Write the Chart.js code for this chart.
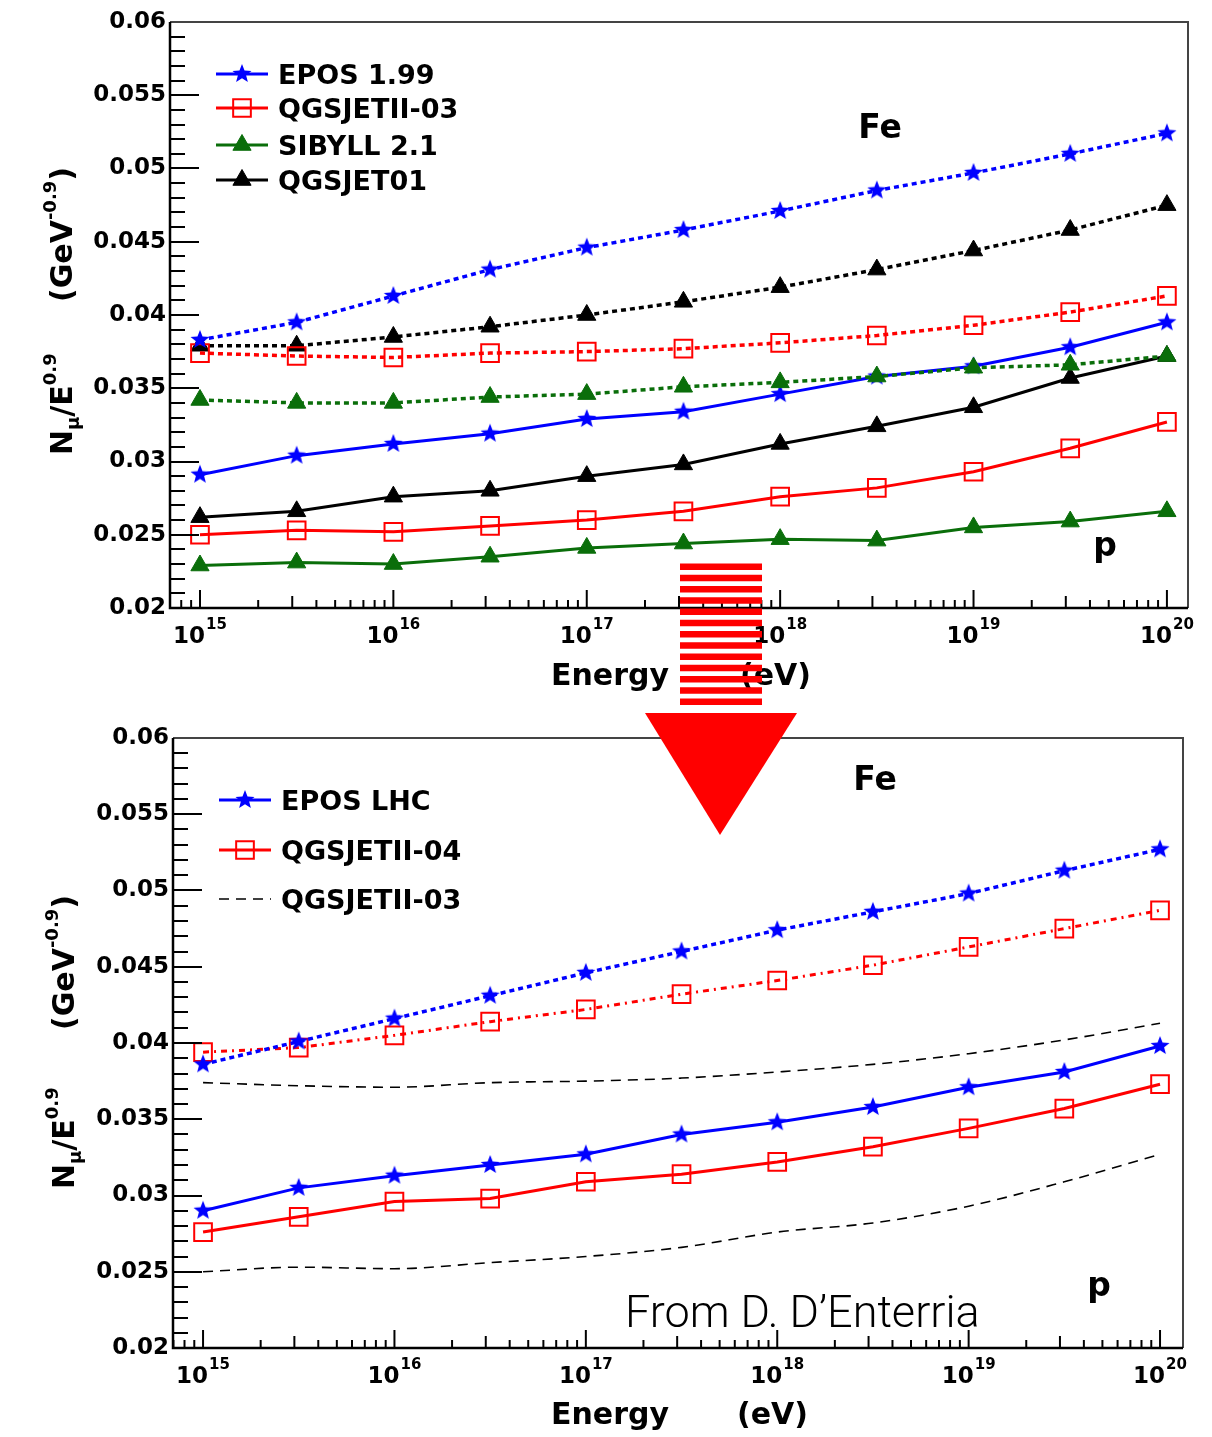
<!DOCTYPE html>
<html>
<head>
<meta charset="utf-8">
<script src="https://cdn.jsdelivr.net/npm/chart.js@4/dist/chart.umd.min.js"></script>
<style>
html,body{margin:0;padding:0;background:#fff;}
#wrap{position:relative;width:1212px;height:1437px;overflow:hidden;background:#fff;}
#c1{position:absolute;left:0;top:0;}
#c2{position:absolute;left:0;top:720px;}
#arrow{position:absolute;left:0;top:0;pointer-events:none;}
</style>
</head>
<body>
<div id="wrap">
<canvas id="c1" width="1212" height="720"></canvas>
<canvas id="c2" width="1212" height="717"></canvas>
<svg id="arrow" width="1212" height="1437"></svg>
</div>
<script>
// ---------------- data ----------------
const ENERGY = [1e15, 3.162e15, 1e16, 3.162e16, 1e17, 3.162e17, 1e18, 3.162e18, 1e19, 3.162e19, 1e20];
const X_DECADES = [15, 16, 17, 18, 19, 20];
const Y_TICKS = [0.02, 0.025, 0.03, 0.035, 0.04, 0.045, 0.05, 0.055, 0.06];

// top panel (old models)
const eposFe     = [0.0383, 0.0395, 0.0413, 0.0431, 0.0446, 0.0458, 0.0471, 0.0485, 0.0497, 0.0510, 0.0524];
const qgs01Fe    = [0.0379, 0.0379, 0.0385, 0.0392, 0.0400, 0.0409, 0.0419, 0.0431, 0.0444, 0.0458, 0.0475];
const qgsII03Fe  = [0.0374, 0.0372, 0.0371, 0.0374, 0.0375, 0.0377, 0.0381, 0.0386, 0.0393, 0.0402, 0.0413];
const sibyllFe   = [0.0342, 0.0340, 0.0340, 0.0344, 0.0346, 0.0351, 0.0354, 0.0358, 0.0364, 0.0366, 0.0372];
const eposP      = [0.0291, 0.0304, 0.0312, 0.0319, 0.0329, 0.0334, 0.0346, 0.0358, 0.0365, 0.0378, 0.0395];
const qgs01P     = [0.0262, 0.0266, 0.0276, 0.0280, 0.0290, 0.0298, 0.0312, 0.0324, 0.0337, 0.0357, 0.0372];
const qgsII03P   = [0.0250, 0.0253, 0.0252, 0.0256, 0.0260, 0.0266, 0.0276, 0.0282, 0.0293, 0.0309, 0.0327];
const sibyllP    = [0.0229, 0.0231, 0.0230, 0.0235, 0.0241, 0.0244, 0.0247, 0.0246, 0.0255, 0.0259, 0.0266];

// bottom panel (LHC-tuned models)
const eposLhcFe  = [0.0386, 0.0401, 0.0416, 0.0431, 0.0446, 0.0460, 0.0474, 0.0486, 0.0498, 0.0513, 0.0527];
const qgsII04Fe  = [0.0394, 0.0397, 0.0405, 0.0414, 0.0422, 0.0432, 0.0441, 0.0451, 0.0463, 0.0475, 0.0487];
const eposLhcP   = [0.0290, 0.0305, 0.0313, 0.0320, 0.0327, 0.0340, 0.0348, 0.0358, 0.0371, 0.0381, 0.0398];
const qgsII04P   = [0.0276, 0.0286, 0.0296, 0.0298, 0.0309, 0.0314, 0.0322, 0.0332, 0.0344, 0.0357, 0.0373];

const LEGEND_TOP = ['EPOS 1.99', 'QGSJETII-03', 'SIBYLL 2.1', 'QGSJET01'];
const LEGEND_BOT = ['EPOS LHC', 'QGSJETII-04', 'QGSJETII-03'];

// ---------------- styles ----------------
const BLUE = '#0000ff', RED = '#ff0000', GREEN = '#0a6e0a', BLACK = '#000000';
const FONT = '"DejaVu Sans", "Liberation Sans", Arial, sans-serif';

function makeStar(color, R, r) {
  const c = document.createElement('canvas');
  const s = Math.ceil(2 * R + 2);
  c.width = s; c.height = s;
  const g = c.getContext('2d');
  g.fillStyle = color;
  g.beginPath();
  for (let i = 0; i < 10; i++) {
    const ang = -Math.PI / 2 + i * Math.PI / 5;
    const rad = i % 2 === 0 ? R : r;
    const px = s / 2 + rad * Math.cos(ang), py = s / 2 + rad * Math.sin(ang);
    if (i === 0) g.moveTo(px, py); else g.lineTo(px, py);
  }
  g.closePath(); g.fill();
  return c;
}
const starBlue = makeStar(BLUE, 10, 4.3);

function pts(arr) { return ENERGY.map((e, i) => ({ x: e, y: arr[i] })); }

const DOTTED = [5, 4];
function ds(label, arr, color, marker, dash, extra) {
  const base = {
    label, data: pts(arr), borderColor: color, borderWidth: 3,
    borderDash: dash || [], tension: 0, fill: false,
    pointStyle: marker, pointRadius: 10, pointHoverRadius: 10,
    pointBorderColor: color, pointBackgroundColor: color, pointBorderWidth: 1
  };
  if (marker === 'rect') {
    base.pointRadius = 12.5; base.pointBorderWidth = 2; base.pointBackgroundColor = 'rgba(0,0,0,0)';
  }
  if (marker === 'triangle') { base.pointRadius = 10.5; }
  if (marker === false) { base.pointRadius = 0; base.pointHoverRadius = 0; }
  return Object.assign(base, extra || {});
}

// ---------------- drawing helpers ----------------
function supText(ctx, base, sup, cx, by, bSize, sSize, rise) {
  ctx.font = 'bold ' + bSize + 'px ' + FONT;
  const w1 = ctx.measureText(base).width;
  ctx.font = 'bold ' + sSize + 'px ' + FONT;
  const w2 = ctx.measureText(sup).width;
  const x0 = cx - (w1 + w2 + 1) / 2;
  ctx.textAlign = 'left'; ctx.textBaseline = 'alphabetic';
  ctx.font = 'bold ' + bSize + 'px ' + FONT;
  ctx.fillText(base, x0, by);
  ctx.font = 'bold ' + sSize + 'px ' + FONT;
  ctx.fillText(sup, x0 + w1 + 1, by - rise);
}

function runs(ctx, parts) {
  let cx = 0;
  ctx.textAlign = 'left'; ctx.textBaseline = 'alphabetic';
  for (const [t, s, dy] of parts) {
    ctx.font = 'bold ' + s + 'px ' + FONT;
    ctx.fillText(t, cx, dy);
    cx += ctx.measureText(t).width;
  }
}

function yTitle(ctx, xb, yStart1, yStart2) {
  ctx.save();
  ctx.fillStyle = '#000';
  ctx.translate(xb, yStart1); ctx.rotate(-Math.PI / 2);
  runs(ctx, [['N', 30, 0], ['\u03bc', 18, 7], ['/E', 30, 0], ['0.9', 18, -16]]);
  ctx.restore();
  ctx.save();
  ctx.fillStyle = '#000';
  ctx.translate(xb, yStart2); ctx.rotate(-Math.PI / 2);
  runs(ctx, [['(GeV', 30, 0], ['-0.9', 18, -16], [')', 30, 0]]);
  ctx.restore();
}

function makeDecor(cfg) {
  return {
    id: 'decor' + cfg.id,
    afterDraw(chart) {
      const { ctx, chartArea: a, scales } = chart;
      const x = scales.x, y = scales.y;
      const o = cfg.off;
      ctx.save();
      // y ticks (inside)
      ctx.strokeStyle = '#000'; ctx.lineWidth = 2;
      for (let m = 20; m <= 60; m++) {
        const v = m / 1000;
        const py = Math.round(y.getPixelForValue(v));
        const len = m % 5 === 0 ? 29 : 15;
        ctx.beginPath(); ctx.moveTo(a.left, py); ctx.lineTo(a.left + len, py); ctx.stroke();
      }
      // x ticks (inside)
      for (let n = 14; n <= 20; n++) {
        for (let k = 1; k <= 9; k++) {
          const v = k * Math.pow(10, n);
          if (v < x.min || v > x.max) continue;
          const px = x.getPixelForValue(v);
          const len = k === 1 ? 18 : (k === 3 ? 12 : 8);
          ctx.beginPath(); ctx.moveTo(px, a.bottom); ctx.lineTo(px, a.bottom - len); ctx.stroke();
        }
      }
      // frame
      ctx.strokeStyle = '#444'; ctx.lineWidth = 2;
      ctx.beginPath(); ctx.moveTo(a.left, a.top); ctx.lineTo(a.right, a.top); ctx.lineTo(a.right, a.bottom); ctx.stroke();
      ctx.strokeStyle = '#000'; ctx.lineWidth = 2.5;
      ctx.beginPath(); ctx.moveTo(a.left, a.top); ctx.lineTo(a.left, a.bottom); ctx.lineTo(a.right, a.bottom); ctx.stroke();
      // x tick labels
      ctx.fillStyle = '#000';
      for (const n of X_DECADES) {
        const px = x.getPixelForValue(Math.pow(10, n));
        supText(ctx, '10', String(n), px, cfg.xLabBase - o, 23, 15, 14);
      }
      // x title
      ctx.font = 'bold 30px ' + FONT; ctx.textAlign = 'left'; ctx.textBaseline = 'alphabetic';
      ctx.fillText('Energy', 551, cfg.xTitleBase - o);
      ctx.fillText('(eV)', cfg.evX, cfg.xTitleBase - o);
      // y title
      yTitle(ctx, cfg.yTitleX, cfg.yT1 - o, cfg.yT2 - o);
      // Fe / p labels
      ctx.font = 'bold 33px ' + FONT; ctx.textAlign = 'center';
      ctx.fillText('Fe', cfg.feX, cfg.feY - o);
      ctx.fillText('p', cfg.pX, cfg.pY - o);
      // legend
      const dss = chart.data.datasets;
      cfg.legend.forEach((ent) => {
        const d = dss[ent.ds];
        const ly = ent.y - o;
        ctx.save();
        ctx.strokeStyle = d.borderColor; ctx.lineWidth = ent.lw;
        ctx.setLineDash(ent.dash || []);
        ctx.beginPath(); ctx.moveTo(cfg.legX1, ly); ctx.lineTo(cfg.legX2, ly); ctx.stroke();
        ctx.restore();
        if (d.pointStyle) {
          ctx.save();
          ctx.strokeStyle = d.pointBorderColor; ctx.fillStyle = d.pointBackgroundColor;
          ctx.lineWidth = d.pointBorderWidth;
          Chart.helpers.drawPoint(ctx, { pointStyle: d.pointStyle, radius: d.pointRadius, borderWidth: d.pointBorderWidth, rotation: 0 }, (cfg.legX1 + cfg.legX2) / 2, ly);
          ctx.restore();
        }
        ctx.fillStyle = '#000';
        ctx.font = 'bold 27px ' + FONT; ctx.textAlign = 'left'; ctx.textBaseline = 'alphabetic';
        ctx.fillText(ent.text, cfg.legTX, ly + 10);
      });
      if (cfg.credit) {
        ctx.font = '300 45px Roboto, "Open Sans", Lato, sans-serif';
        ctx.textAlign = 'left'; ctx.fillStyle = '#000';
        ctx.fillText(cfg.credit, 625, 1327 - o);
      }
      ctx.restore();
    }
  };
}

function yScale(w) {
  return {
    type: 'linear', min: 0.02, max: 0.06, position: 'left',
    grid: { display: false, drawTicks: false }, border: { display: false },
    afterBuildTicks: (s) => { s.ticks = Y_TICKS.map(v => ({ value: v })); },
    afterFit: (s) => { s.width = w; },
    ticks: {
      padding: 4, color: '#000', font: { family: FONT, weight: 'bold', size: 23 },
      callback: (v) => String(+(+v).toFixed(3))
    }
  };
}

// ---------------- top chart ----------------
const topDatasets = [
  ds('EPOS 1.99 Fe', eposFe, BLUE, starBlue, DOTTED, { borderWidth: 3.5 }),
  ds('QGSJETII-03 Fe', qgsII03Fe, RED, 'rect', DOTTED, { borderWidth: 3.5 }),
  ds('SIBYLL 2.1 Fe', sibyllFe, GREEN, 'triangle', DOTTED, { borderWidth: 3.5 }),
  ds('QGSJET01 Fe', qgs01Fe, BLACK, 'triangle', DOTTED, { borderWidth: 3.5 }),
  ds('EPOS 1.99 p', eposP, BLUE, starBlue),
  ds('QGSJETII-03 p', qgsII03P, RED, 'rect'),
  ds('SIBYLL 2.1 p', sibyllP, GREEN, 'triangle'),
  ds('QGSJET01 p', qgs01P, BLACK, 'triangle')
];

new Chart(document.getElementById('c1'), {
  type: 'line',
  data: { datasets: topDatasets },
  options: {
    responsive: false, animation: false, devicePixelRatio: 1,
    layout: { padding: { left: 0, top: 22, right: 24, bottom: 112 } },
    plugins: { legend: { display: false }, tooltip: { enabled: false } },
    scales: {
      x: { type: 'logarithmic', min: Math.pow(10, 14.845), max: Math.pow(10, 20.109), display: false },
      y: yScale(170)
    }
  },
  plugins: [makeDecor({
    id: 1, off: 0, xLabBase: 643, xTitleBase: 685, evX: 740,
    yTitleX: 72, yT1: 455, yT2: 302,
    feX: 880, feY: 138, pX: 1105, pY: 556,
    legX1: 216, legX2: 268, legTX: 278,
    legend: [
      { ds: 4, y: 74, lw: 3, text: LEGEND_TOP[0] },
      { ds: 5, y: 108, lw: 3, text: LEGEND_TOP[1] },
      { ds: 6, y: 145, lw: 3, text: LEGEND_TOP[2] },
      { ds: 7, y: 180, lw: 3, text: LEGEND_TOP[3] }
    ]
  })]
});

// ---------------- bottom chart ----------------
const botDatasets = [
  ds('QGSJETII-03 Fe', qgsII03Fe, BLACK, false, [10, 7], { borderWidth: 1.6, cubicInterpolationMode: 'monotone' }),
  ds('QGSJETII-03 p', qgsII03P, BLACK, false, [10, 7], { borderWidth: 1.6, cubicInterpolationMode: 'monotone' }),
  ds('EPOS LHC Fe', eposLhcFe, BLUE, starBlue, DOTTED, { borderWidth: 3.5 }),
  ds('QGSJETII-04 Fe', qgsII04Fe, RED, 'rect', [6, 5, 2, 5], { borderWidth: 3 }),
  ds('EPOS LHC p', eposLhcP, BLUE, starBlue),
  ds('QGSJETII-04 p', qgsII04P, RED, 'rect')
];

new Chart(document.getElementById('c2'), {
  type: 'line',
  data: { datasets: botDatasets },
  options: {
    responsive: false, animation: false, devicePixelRatio: 1,
    layout: { padding: { left: 0, top: 18, right: 29, bottom: 89 } },
    plugins: { legend: { display: false }, tooltip: { enabled: false } },
    scales: {
      x: { type: 'logarithmic', min: Math.pow(10, 14.843), max: Math.pow(10, 20.12), display: false },
      y: yScale(173)
    }
  },
  plugins: [makeDecor({
    id: 2, off: 720, xLabBase: 1383, xTitleBase: 1424, evX: 737,
    yTitleX: 74, yT1: 1189, yT2: 1030,
    feX: 875, feY: 790, pX: 1099, pY: 1296,
    legX1: 219, legX2: 271, legTX: 281,
    credit: 'From D. D\u2019Enterria',
    legend: [
      { ds: 4, y: 800, lw: 3, text: LEGEND_BOT[0] },
      { ds: 5, y: 850, lw: 3, text: LEGEND_BOT[1] },
      { ds: 0, y: 899, lw: 1.6, dash: [10, 7], text: LEGEND_BOT[2] }
    ]
  })]
});

// ---------------- red arrow overlay ----------------
(function () {
  const svg = document.getElementById('arrow');
  const NS = 'http://www.w3.org/2000/svg';
  for (let i = 0; i < 13; i++) {
    const r = document.createElementNS(NS, 'rect');
    r.setAttribute('x', 680); r.setAttribute('y', 563.5 + i * 11.25);
    r.setAttribute('width', 82); r.setAttribute('height', 6.5);
    r.setAttribute('fill', '#ff0000');
    svg.appendChild(r);
  }
  const p = document.createElementNS(NS, 'polygon');
  p.setAttribute('points', '645,713 797,713 720,835');
  p.setAttribute('fill', '#ff0000');
  svg.appendChild(p);
})();
</script>
</body>
</html>
